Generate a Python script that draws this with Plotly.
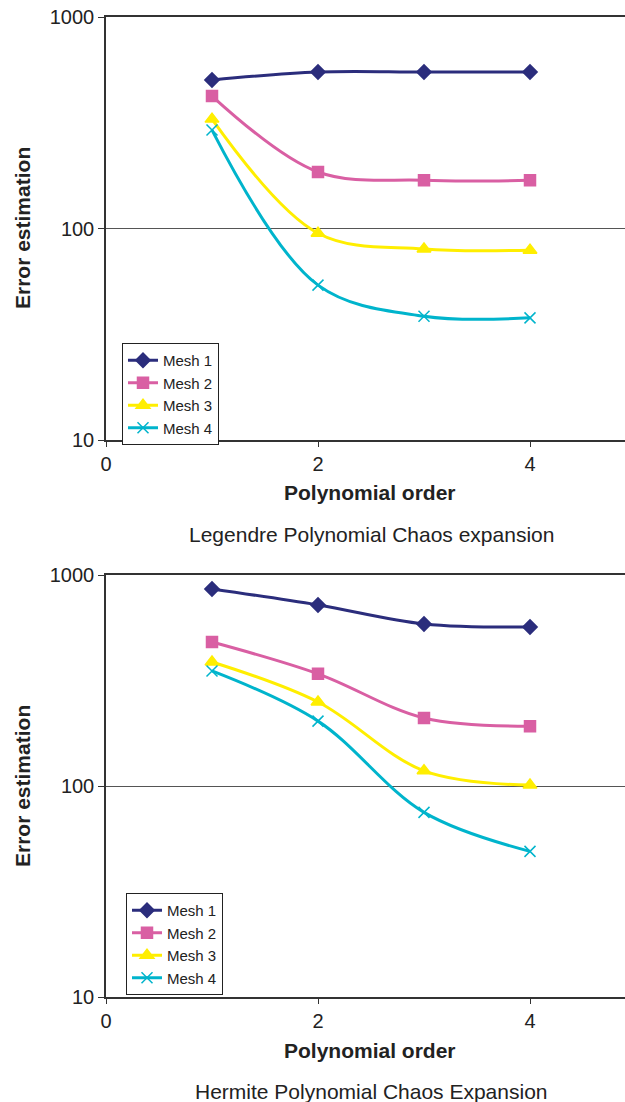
import plotly.graph_objects as go

orders = [1, 2, 3, 4]
series_names = ["Mesh 1", "Mesh 2", "Mesh 3", "Mesh 4"]

legendre_mesh1 = [504, 549, 549, 549]
legendre_mesh2 = [423, 185, 169, 169]
legendre_mesh3 = [329, 95, 80, 79]
legendre_mesh4 = [292, 54, 38.5, 37.8]

hermite_mesh1 = [859, 721, 586, 567]
hermite_mesh2 = [481, 340, 210, 192]
hermite_mesh3 = [387, 250, 118, 101]
hermite_mesh4 = [351, 203, 75, 49]

x_ticks = [0, 2, 4]
y_ticks = [10, 100, 1000]
y_tick_labels = ["10", "100", "1000"]

colors = ["#2B2D7C", "#D95FA3", "#FFEE00", "#00B4CC"]
symbols = ["diamond", "square", "triangle-up", "x-thin-open"]
sizes = [11, 11, 12, 11]

FONT = "Liberation Sans, Arial, Helvetica, sans-serif"
W, H = 625, 1102

fig = go.Figure()

panels = [
    ("x", "y", "legend", [legendre_mesh1, legendre_mesh2, legendre_mesh3, legendre_mesh4]),
    ("x2", "y2", "legend2", [hermite_mesh1, hermite_mesh2, hermite_mesh3, hermite_mesh4]),
]
for xa, ya, lg, data in panels:
    for i, vals in enumerate(data):
        fig.add_trace(go.Scatter(
            x=orders, y=vals, name=series_names[i], mode="lines+markers",
            xaxis=xa, yaxis=ya, legend=lg,
            line=dict(color=colors[i], width=3, shape="spline", smoothing=1),
            marker=dict(color=colors[i], symbol=symbols[i], size=sizes[i],
                        line=dict(color=colors[i], width=1.5)),
        ))

def px_x(p):
    return p / W

def px_y(p):
    return 1 - p / H

xr = [0, (W - 106) / 106 * 1.0]
x_dom = [px_x(106), 1.0]
top_dom = [px_y(440), px_y(17)]
bot_dom = [px_y(997), px_y(575)]

axis_common_x = dict(
    range=xr, tickvals=x_ticks, ticktext=[str(t) for t in x_ticks],
    showline=True, linecolor="#333333", linewidth=1.5, mirror=True,
    ticks="outside", ticklen=5, tickcolor="#333333", showgrid=False, zeroline=False,
    tickfont=dict(family=FONT, size=20, color="#222222"), domain=x_dom,
    automargin=False,
)
axis_common_y = dict(
    type="log", range=[1, 3], tickvals=y_ticks, ticktext=y_tick_labels,
    showline=True, linecolor="#333333", linewidth=1.5,
    ticks="outside", ticklen=6, tickcolor="#333333",
    showgrid=True, gridcolor="#555555", gridwidth=1, zeroline=False,
    tickfont=dict(family=FONT, size=20, color="#222222"),
    automargin=False,
)

legend_common = dict(
    bgcolor="white", bordercolor="#222222", borderwidth=1,
    font=dict(family=FONT, size=15, color="#222222"),
    xanchor="left", yanchor="top", tracegroupgap=0, itemwidth=30,
)

fig.update_layout(
    width=W, height=H, plot_bgcolor="white", paper_bgcolor="white",
    margin=dict(l=0, r=0, t=0, b=0, autoexpand=False),
    font=dict(family=FONT),
    xaxis=dict(axis_common_x, anchor="y"),
    yaxis=dict(axis_common_y, domain=top_dom, anchor="x"),
    xaxis2=dict(axis_common_x, anchor="y2"),
    yaxis2=dict(axis_common_y, domain=bot_dom, anchor="x2"),
    legend=dict(legend_common, x=px_x(122), y=px_y(343)),
    legend2=dict(legend_common, x=px_x(126), y=px_y(893)),
)

ann = []
for yc, ylab, ysub, sub in [(228, 492, 535, "Legendre Polynomial Chaos expansion"),
                            (786, 1050, 1091, "Hermite Polynomial Chaos Expansion")]:
    ann.append(dict(text="<b>Error estimation</b>", x=px_x(23), y=px_y(yc), xref="paper", yref="paper",
                    xanchor="center", yanchor="middle",
                    textangle=-90, showarrow=False, font=dict(family=FONT, size=21, color="#222222")))
    ann.append(dict(text="<b>Polynomial order</b>", x=px_x(370), y=px_y(ylab), xref="paper", yref="paper",
                    xanchor="center", yanchor="middle",
                    showarrow=False, font=dict(family=FONT, size=21, color="#222222")))
    ann.append(dict(text=sub, x=px_x(371), y=px_y(ysub), xref="paper", yref="paper",
                    xanchor="center", yanchor="middle",
                    showarrow=False, font=dict(family=FONT, size=21, color="#222222")))
fig.update_layout(annotations=ann)

fig.write_html("out.html", config={"displayModeBar": False},
               post_script="document.body.style.margin='0px';document.body.style.overflow='hidden';")
